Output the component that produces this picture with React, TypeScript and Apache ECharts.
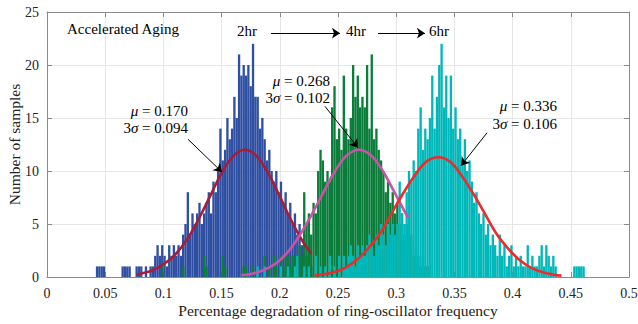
import React, { useEffect, useRef } from "react";
import * as echarts from "echarts";

const BIN_WIDTH = 0.002;

const blueStart = 0.04;
const blueCounts = [
  0, 1, 1, 1, 1, 0, 0, 0, 0, 0, 0, 0, 1, 1, 1, 1, 0, 0, 1, 1, 1, 0, 1, 0, 1, 1,
  2, 3, 2, 3, 2, 1, 3, 2, 3, 2, 3, 2, 4, 5, 8, 4, 6, 5, 6, 7, 5, 6, 7, 8, 6, 9,
  8, 10, 14, 11, 12, 15, 13, 14, 17, 15, 21, 19, 20, 19, 20, 18, 22, 17, 17, 14,
  15, 13, 11, 12, 10, 9, 10, 8, 9, 7, 8, 6, 7, 5, 6, 4, 5, 3, 4, 2, 3, 1,
];

const greenStart = 0.098;
const greenCounts = [
  1, 0, 0, 0, 0, 0, 0, 0, 0, 1, 0, 0, 0, 0, 0, 0, 0, 0, 2, 1, 0, 0, 0, 0, 0, 0,
  2, 1, 0, 0, 0, 0, 0, 0, 0, 1, 1, 0, 0, 1, 0, 0, 0, 0, 2, 0, 1, 0, 2, 1, 0, 2,
  1, 2, 2, 1, 2, 2, 2, 3, 2, 8, 5, 6, 4, 7, 6, 10, 12, 11, 9, 10, 9, 16, 18, 13,
  14, 12, 19, 14, 13, 15, 20, 17, 19, 16, 17, 16, 20, 14, 21, 13, 14, 12, 11, 10,
  8, 9, 7, 8, 6, 7, 5, 6, 4, 5, 3, 4, 2, 3, 2, 1, 2, 1, 1, 1,
];

const cyanStart = 0.18;
const cyanCounts = [
  1, 0, 0, 1, 0, 0, 0, 0, 0, 0, 1, 0, 0, 1, 0, 0, 1, 2, 0, 0, 1, 0, 1, 0, 0, 2,
  0, 1, 0, 1, 0, 2, 0, 1, 0, 2, 0, 2, 1, 2, 3, 2, 1, 3, 2, 3, 2, 3, 4, 3, 2, 4,
  3, 5, 4, 3, 5, 4, 5, 4, 5, 9, 6, 5, 8, 10, 9, 11, 10, 14, 16, 12, 14, 13, 15,
  19, 14, 17, 20, 22, 16, 19, 15, 19, 14, 16, 13, 14, 11, 13, 10, 11, 9, 7, 8, 6,
  5, 6, 4, 5, 3, 4, 3, 2, 4, 2, 3, 1, 2, 3, 1, 2, 1, 2, 1, 1, 3, 1, 2, 1, 1, 2,
  3, 1, 3, 2, 1, 2, 1, 0, 0, 0, 0, 0, 0, 0, 1, 1, 1, 1, 1,
];

const fit2hrX = [0.077, 0.08, 0.09, 0.1, 0.11, 0.12, 0.13, 0.14, 0.15, 0.16, 0.17, 0.18, 0.19, 0.2, 0.21, 0.22, 0.227];
const fit2hrY = [0.2, 0.3, 0.6, 1.2, 2.1, 3.5, 5.4, 7.6, 9.8, 11.4, 12.0, 11.4, 9.8, 7.6, 5.3, 3.3, 2.2];

const fit4hrX = [0.167, 0.178, 0.188, 0.198, 0.208, 0.218, 0.228, 0.238, 0.248, 0.258, 0.268, 0.278, 0.288, 0.298, 0.31];
const fit4hrY = [0.16, 0.36, 0.75, 1.4, 2.5, 4.1, 6.0, 8.1, 10.1, 11.5, 12.0, 11.5, 10.1, 8.1, 5.6];

const fit6hrX = [0.23, 0.246, 0.256, 0.266, 0.276, 0.286, 0.296, 0.306, 0.316, 0.326, 0.336, 0.346, 0.356, 0.366, 0.376, 0.386, 0.396, 0.406, 0.416, 0.426, 0.436, 0.442];
const fit6hrY = [0.13, 0.44, 0.87, 1.6, 2.7, 4.1, 6.0, 7.9, 9.6, 10.9, 11.3, 10.9, 9.6, 7.9, 6.0, 4.1, 2.7, 1.6, 0.87, 0.44, 0.2, 0.13];

const xTicks = { min: 0, max: 0.5, interval: 0.05 };
const yTicks = { min: 0, max: 25, interval: 5 };

const SERIF = "Liberation Serif";

function binsOf(start: number, counts: number[]) {
  return counts.map((c, i) => {
    const x0 = +(start + i * BIN_WIDTH).toFixed(4);
    return [x0, +(x0 + BIN_WIDTH).toFixed(4), c];
  });
}

function histSeries(name: string, start: number, counts: number[], color: string) {
  return {
    type: "custom",
    name,
    clip: true,
    encode: { x: [0, 1], y: 2 },
    data: binsOf(start, counts).filter((d) => d[2] > 0),
    renderItem: (params: any, api: any) => {
      const p0 = api.coord([api.value(0), api.value(2)]);
      const p1 = api.coord([api.value(1), 0]);
      return {
        type: "rect",
        shape: { x: p0[0], y: p0[1], width: p1[0] - p0[0], height: p1[1] - p0[1] },
        style: { fill: color },
      };
    },
  };
}

function fitSeries(xs: number[], ys: number[], color: string) {
  return {
    type: "line",
    smooth: 0.4,
    showSymbol: false,
    symbol: "none",
    data: xs.map((x, i) => [x, ys[i]]),
    lineStyle: { color, width: 2.6 },
    z: 5,
  };
}

const arrows = [
  [[0.1924, 23.0], [0.2517, 23.0]],
  [[0.2844, 23.0], [0.3247, 23.0]],
  [[0.1211, 13.0], [0.1503, 9.9]],
  [[0.2388, 16.1], [0.2672, 12.2]],
  [[0.378, 13.6], [0.3557, 10.5]],
];

function muText(x: number, y: number, text: string) {
  return {
    type: "text",
    x,
    y,
    z: 100,
    style: {
      text,
      fill: "#000",
      fontFamily: SERIF,
      fontSize: 15,
      align: "right",
      verticalAlign: "middle",
      rich: {
        i: { fontStyle: "italic", fontSize: 15, fontFamily: SERIF, fill: "#000" },
        n: { fontSize: 15, fontFamily: SERIF, fill: "#000" },
      },
    },
  };
}

function plainText(x: number, y: number, text: string, size: number, align: string) {
  return {
    type: "text",
    x,
    y,
    z: 100,
    style: { text, fill: "#000", fontFamily: SERIF, fontSize: size, align, verticalAlign: "middle" },
  };
}

export default function App() {
  const ref = useRef<HTMLDivElement>(null);
  useEffect(() => {
    document.body.style.margin = "0";
    if (!ref.current) return;
    const chart = echarts.init(ref.current, undefined, { renderer: "svg" });
    const axisColor = "#8a8a8a";
    chart.setOption({
      animation: false,
      backgroundColor: "#fff",
      grid: { left: 47, right: 9, top: 12, bottom: 47, outerBoundsMode: "none", containLabel: false },
      xAxis: [
        {
          type: "value",
          ...xTicks,
          axisLine: { show: true, lineStyle: { color: axisColor } },
          axisTick: { show: true, inside: true, length: 5, lineStyle: { color: axisColor } },
          axisLabel: { color: "#222", fontFamily: SERIF, fontSize: 14, margin: 9 },
          splitLine: { show: true, lineStyle: { color: "#e6e6e6" } },
          name: "Percentage degradation of ring-oscillator frequency",
          nameLocation: "middle",
          nameGap: 25,
          nameMoveOverlap: false,
          nameTextStyle: { color: "#222", fontFamily: SERIF, fontSize: 15.5 },
        },
        {
          type: "value",
          position: "top",
          ...xTicks,
          axisLine: { show: true, onZero: false, lineStyle: { color: axisColor } },
          axisTick: { show: true, inside: true, length: 5, lineStyle: { color: axisColor } },
          axisLabel: { show: false },
          splitLine: { show: false },
        },
      ],
      yAxis: [
        {
          type: "value",
          ...yTicks,
          axisLine: { show: true, lineStyle: { color: axisColor } },
          axisTick: { show: true, inside: true, length: 5, lineStyle: { color: axisColor } },
          axisLabel: { color: "#222", fontFamily: SERIF, fontSize: 14, margin: 8 },
          splitLine: { show: true, lineStyle: { color: "#e6e6e6" } },
          name: "Number of samples",
          nameLocation: "middle",
          nameGap: 25,
          nameMoveOverlap: false,
          nameTextStyle: { color: "#222", fontFamily: SERIF, fontSize: 15.5 },
        },
        {
          type: "value",
          position: "right",
          ...yTicks,
          axisLine: { show: true, onZero: false, lineStyle: { color: axisColor } },
          axisTick: { show: true, inside: true, length: 5, lineStyle: { color: axisColor } },
          axisLabel: { show: false },
          splitLine: { show: false },
        },
      ],
      series: [
        histSeries("2hr", blueStart, blueCounts, "#2f4fa2"),
        histSeries("4hr", greenStart, greenCounts, "#0a7d3a"),
        histSeries("6hr", cyanStart, cyanCounts, "#00b7b9"),
        fitSeries(fit2hrX, fit2hrY, "#a81c37"),
        fitSeries(fit4hrX, fit4hrY, "#c755a6"),
        fitSeries(fit6hrX, fit6hrY, "#ee2a2a"),
        {
          type: "lines",
          coordinateSystem: "cartesian2d",
          symbol: ["none", "arrow"],
          symbolSize: [5, 8],
          lineStyle: { color: "#000", width: 1, opacity: 1 },
          data: arrows.map((c) => ({ coords: c })),
          z: 10,
        },
      ],
      graphic: [
        plainText(67, 29, "Accelerated Aging", 15, "left"),
        plainText(247, 31, "2hr", 15, "center"),
        plainText(356, 31, "4hr", 15, "center"),
        plainText(439, 31, "6hr", 15, "center"),
        muText(188, 111, "{i|μ}{n| = 0.170}"),
        muText(188, 128, "{n|3}{i|σ}{n| = 0.094}"),
        muText(330, 81, "{i|μ}{n| = 0.268}"),
        muText(330, 98, "{n|3}{i|σ}{n| = 0.102}"),
        muText(557, 106, "{i|μ}{n| = 0.336}"),
        muText(557, 124, "{n|3}{i|σ}{n| = 0.106}"),
      ],
    });
    return () => chart.dispose();
  }, []);
  return <div ref={ref} style={{ width: 638, height: 324 }} />;
}
